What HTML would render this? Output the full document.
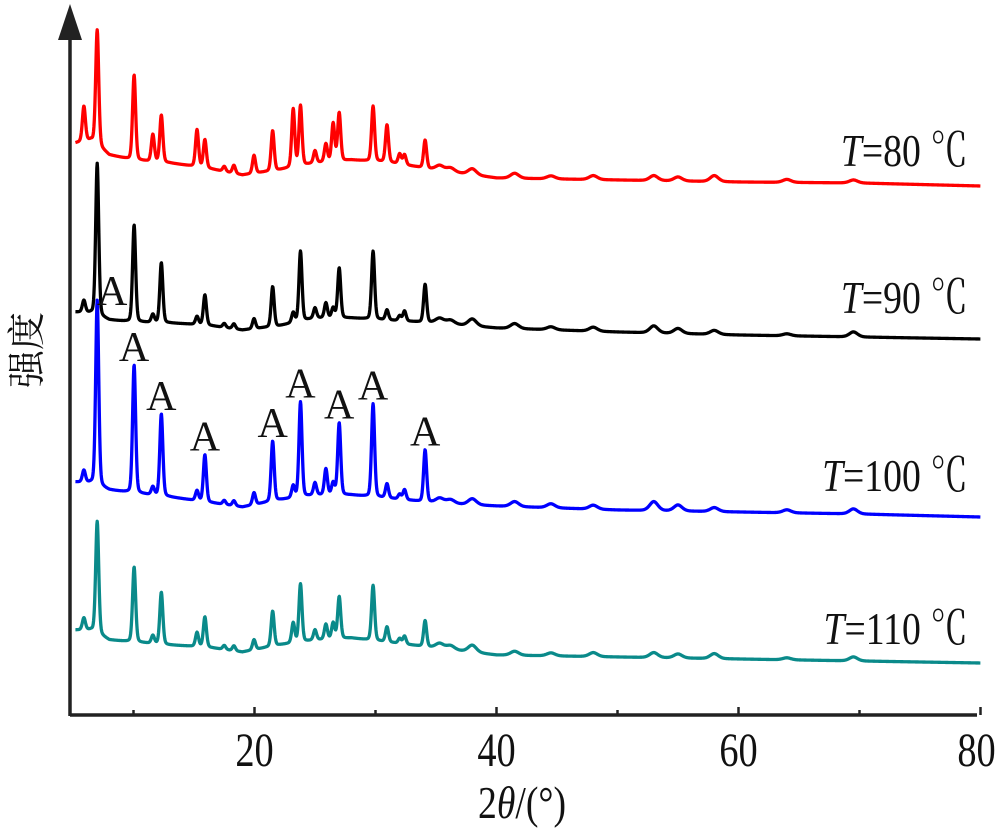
<!DOCTYPE html>
<html><head><meta charset="utf-8">
<style>
html,body{margin:0;padding:0;background:#fff;}
svg{display:block;}
text{font-family:"Liberation Serif","Noto Serif CJK SC",serif;fill:#111;}
</style></head>
<body>
<svg id="chart" width="1000" height="833" viewBox="0 0 1000 833" xmlns="http://www.w3.org/2000/svg">
  <g id="series"></g>
  <g id="axes">
    <line x1="70" y1="715" x2="977" y2="715" stroke="#222" stroke-width="3.5"/>
    <line x1="70" y1="716" x2="70" y2="30" stroke="#222" stroke-width="3.5"/>
    <polygon points="58,40 82,40 70,4" fill="#222"/>
  </g>
  <g id="ticks"></g>
  <g id="labels"></g>
  <text transform="translate(522,818) scale(0.82,1)" font-size="46" text-anchor="middle">2<tspan font-style="italic">θ</tspan>/(°)</text>
  <text transform="translate(40,350) rotate(-90)" font-size="38" text-anchor="middle" font-family="'Noto Serif CJK SC','Noto Sans CJK SC',serif">强度</text>
</svg>
<script>
const xTicks = [10, 20, 30, 40, 50, 60, 70, 80];
const xTickLabels = ["", "20", "", "40", "", "60", "", "80"];
const baseTheta = [5.2, 6.5, 8, 10, 13, 16, 19, 22, 25, 28, 31, 35, 40, 50, 60, 70, 80];
const baseRed = [572, 575, 560, 555, 552, 547, 540, 545, 552, 555, 553, 545, 537, 535, 533, 532, 529];
const baseBlack = [403, 402, 395, 393, 392, 390, 385, 389, 397, 397, 395, 392, 387, 383, 380, 378, 376];
const baseBlue = [233, 232, 225, 222, 218, 213, 208, 215, 220, 220, 217, 212, 209, 205, 203, 201, 198];
const baseTeal = [85, 85, 75, 73, 70, 68, 63, 70, 75, 77, 73, 67, 60, 58, 56, 54, 52];
const peakTheta = [5.9, 7.0, 10.05, 11.6, 12.3, 15.25, 15.9, 17.5, 18.3, 19.96, 21.5, 23.2, 23.8, 25.0, 25.9, 26.5, 27.0, 29.8, 30.95, 32.0, 32.4, 34.1, 35.3, 36.2, 38.0, 41.5, 44.5, 48.0, 53.0, 55.0, 58.0, 64.0, 69.5];
const peakRed = [35, 115, 85, 27, 47, 37, 28, 5, 8, 18, 40, 58, 60, 12, 18, 38, 48, 55, 37, 10, 10, 28, 5, 4, 6, 5, 3, 4, 5, 4, 6, 3, 3];
const peakBlack = [12, 152, 97, 8, 60, 8, 30, 4, 5, 10, 40, 10, 70, 10, 15, 10, 50, 68, 10, 5, 10, 38, 5, 4, 7, 5, 3, 4, 7, 5, 4, 2, 5];
const peakBlue = [12, 185, 128, 8, 82, 10, 47, 4, 5, 12, 60, 12, 95, 12, 26, 12, 72, 93, 14, 5, 10, 52, 5, 4, 6, 5, 4, 4, 9, 6, 4, 3, 5];
const peakTeal = [12, 112, 75, 8, 52, 14, 30, 4, 5, 10, 35, 20, 58, 10, 15, 16, 42, 55, 15, 5, 8, 26, 5, 4, 7, 4, 3, 4, 5, 4, 5, 2, 4];
const seriesNames = ["T=80 ℃", "T=90 ℃", "T=100 ℃", "T=110 ℃"];
const annotTheta = [7.0, 10.05, 12.3, 15.9, 21.5, 23.8, 27.0, 29.8, 34.1];

const X0 = 73, XS = 12.1;
function xScale(t){ return X0 + (t - 5) * XS; }
function yScale(v){ return 715 - v; }
function interp(xs, ys, t){
  if (t <= xs[0]) return ys[0];
  for (let i = 1; i < xs.length; i++) if (t <= xs[i]) {
    const f = (t - xs[i-1]) / (xs[i] - xs[i-1]);
    return ys[i-1] + f * (ys[i] - ys[i-1]);
  }
  return ys[ys.length-1];
}
function profile(t, heights){
  let s = 0;
  for (let i = 0; i < peakTheta.length; i++) {
    const w = peakTheta[i] > 35 ? 0.35 : 0.13;
    const d = (t - peakTheta[i]) / w;
    s += heights[i] * (0.75 * Math.exp(-0.5 * d * d) + 0.25 / (1 + d * d));
  }
  return s;
}
const NS = "http://www.w3.org/2000/svg";
const sg = document.getElementById('series');
const defs = [
  {base: baseRed, peaks: peakRed, color: "#ff0000", name: "series-80c"},
  {base: baseBlack, peaks: peakBlack, color: "#000000", name: "series-90c"},
  {base: baseBlue, peaks: peakBlue, color: "#0000ff", name: "series-100c"},
  {base: baseTeal, peaks: peakTeal, color: "#0a8a8a", name: "series-110c"}
];
defs.forEach(s => {
  let d = "";
  for (let t = 5.2; t <= 80.0001; t += 0.03) {
    const v = interp(baseTheta, s.base, t) + profile(t, s.peaks);
    d += (d ? "L" : "M") + xScale(t).toFixed(2) + "," + yScale(v).toFixed(2);
  }
  const p = document.createElementNS(NS, "path");
  
  
  p.setAttribute("d", d);
  p.setAttribute("fill", "none");
  p.setAttribute("stroke", s.color);
  p.setAttribute("stroke-width", "3.3");
  p.setAttribute("stroke-linejoin", "round");
  sg.appendChild(p);
});
const tg = document.getElementById('ticks');
xTicks.forEach((t, i) => {
  const major = xTickLabels[i] !== "";
  const l = document.createElementNS(NS, "line");
  
  
  l.setAttribute("x1", xScale(t)); l.setAttribute("x2", xScale(t));
  l.setAttribute("y1", 715); l.setAttribute("y2", major ? 707 : 710);
  l.setAttribute("stroke", "#222"); l.setAttribute("stroke-width", "2.5");
  tg.appendChild(l);
  if (major) {
    const tx = document.createElementNS(NS, "text");
    
    
    tx.setAttribute("transform", "translate(" + (xScale(t) - (t === 80 ? 4 : 0)) + ",766) scale(0.8,1)");
    tx.setAttribute("font-size", "48");
    tx.setAttribute("text-anchor", "middle");
    tx.textContent = xTickLabels[i];
    tg.appendChild(tx);
  }
});
const lg = document.getElementById('labels');
const labelY = [166, 313, 491, 644];
seriesNames.forEach((n, i) => {
  const tx = document.createElementNS(NS, "text");
  
  
  tx.setAttribute("transform", "translate(968," + labelY[i] + ") scale(0.82,1)");
  tx.setAttribute("font-size", "46");
  tx.setAttribute("text-anchor", "end");
  const parts = n.split("=");
  const ts = document.createElementNS(NS, "tspan");
  ts.setAttribute("font-style", "italic");
  ts.textContent = parts[0];
  tx.appendChild(ts);
  tx.appendChild(document.createTextNode("=" + parts[1]));
  lg.appendChild(tx);
});
annotTheta.forEach((t, i) => {
  const tx = document.createElementNS(NS, "text");
  
  
  let x = xScale(t), y;
  if (i === 0) { x += 15; y = 305; }
  else {
    const v = interp(baseTheta, baseBlue, t) + profile(t, peakBlue);
    y = yScale(v) - 4;
  }
  tx.setAttribute("x", x);
  tx.setAttribute("y", y);
  tx.setAttribute("font-size", "42");
  tx.setAttribute("text-anchor", "middle");
  tx.textContent = "A";
  lg.appendChild(tx);
});
</script>
</body></html>
